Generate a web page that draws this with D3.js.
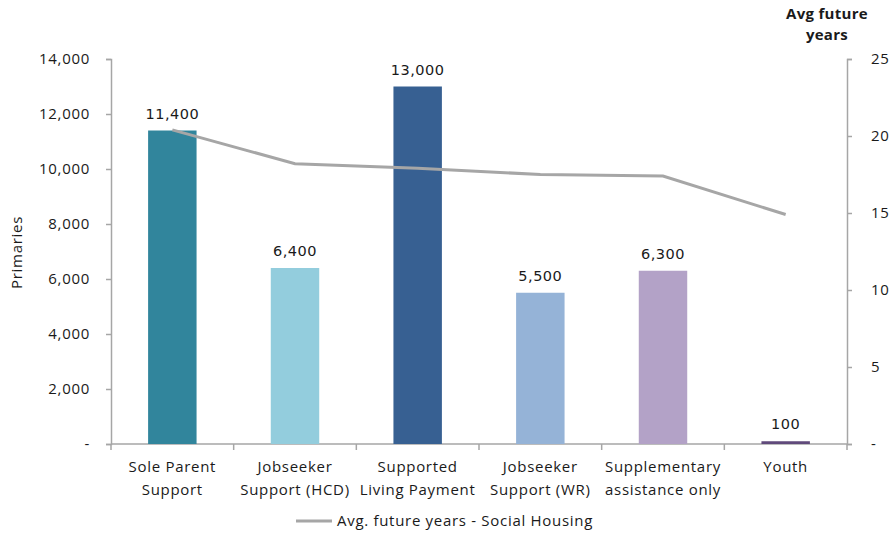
<!DOCTYPE html>
<html>
<head>
<meta charset="utf-8">
<script src="https://cdn.jsdelivr.net/npm/d3@7"></script>
<style>
  html, body { margin: 0; padding: 0; background: #fff; }
  svg { display: block; }
  text { font-family: "Open Sans", Lato, sans-serif; fill: #1a1a1a; }
</style>
</head>
<body>
<svg id="chart" width="893" height="534"></svg>
<script>
// Benefit categories (two-line labels)
const categories = [
  ["Sole Parent", "Support"],
  ["Jobseeker", "Support (HCD)"],
  ["Supported", "Living Payment"],
  ["Jobseeker", "Support (WR)"],
  ["Supplementary", "assistance only"],
  ["Youth"]
];
// Number of primaries per category
const primaries = [11400, 6400, 13000, 5500, 6300, 100];
// Average future years in social housing
const avgYears = [20.4, 18.2, 17.9, 17.5, 17.4, 14.9];
const barColors = ["#31859C", "#93CDDD", "#376092", "#95B3D7", "#B3A2C7", "#604A7B"];
const leftTicks = [0, 2000, 4000, 6000, 8000, 10000, 12000, 14000];
const rightTicks = [0, 5, 10, 15, 20, 25];

const svg = d3.select("#chart");
const m = { left: 111, right: 847, top: 59, bottom: 444 };

const x = d3.scaleBand()
  .domain(d3.range(categories.length))
  .range([m.left, m.right]);
const yL = d3.scaleLinear().domain([0, 14000]).range([m.bottom, m.top]);
const yR = d3.scaleLinear().domain([0, 25]).range([m.bottom, m.top]);

const axisColor = "#a6a6a6";
const fmt = d => d === 0 ? "-" : d3.format(",")(d);
const labelStyle = sel => sel.style("font-size", "15px").style("letter-spacing", "0.7px");

// Left axis
const gL = svg.append("g").attr("transform", `translate(${m.left},0)`)
  .call(d3.axisLeft(yL).tickValues(leftTicks).tickFormat(fmt).tickSize(5).tickPadding(16));
// Right axis
const gR = svg.append("g").attr("transform", `translate(${m.right},0)`)
  .call(d3.axisRight(yR).tickValues(rightTicks).tickFormat(d => d === 0 ? "-" : d).tickSize(5).tickPadding(19));
[gL, gR].forEach(g => {
  g.select(".domain").attr("stroke", axisColor).attr("stroke-width", 1.5);
  g.selectAll(".tick line").attr("stroke", axisColor).attr("stroke-width", 1.5);
  g.selectAll(".tick text").attr("fill", "#1a1a1a").call(labelStyle);
});
gR.selectAll(".tick text").attr("text-anchor", "start");

// Bottom category axis with ticks between categories
const gB = svg.append("g");
gB.append("line")
  .attr("x1", m.left).attr("x2", m.right)
  .attr("y1", m.bottom).attr("y2", m.bottom)
  .attr("stroke", axisColor).attr("stroke-width", 1.5);
gB.selectAll("line.sep")
  .data(d3.range(categories.length + 1))
  .join("line")
  .attr("class", "sep")
  .attr("x1", i => m.left + i * x.bandwidth())
  .attr("x2", i => m.left + i * x.bandwidth())
  .attr("y1", m.bottom).attr("y2", m.bottom + 6)
  .attr("stroke", axisColor).attr("stroke-width", 1.5);

const catLabels = svg.append("g").selectAll("text")
  .data(categories)
  .join("text")
  .attr("x", (d, i) => x(i) + x.bandwidth() / 2)
  .attr("y", 472)
  .attr("text-anchor", "middle")
  .call(labelStyle);
catLabels.selectAll("tspan")
  .data(d => d)
  .join("tspan")
  .attr("x", function () { return this.parentNode.getAttribute("x"); })
  .attr("dy", (d, i) => i === 0 ? 0 : 23)
  .text(d => d);

// Bars
const barW = x.bandwidth() * 0.395;
svg.append("g").selectAll("rect")
  .data(primaries)
  .join("rect")
  .attr("x", (d, i) => x(i) + (x.bandwidth() - barW) / 2)
  .attr("width", barW)
  .attr("y", d => yL(d))
  .attr("height", d => yL(0) - yL(d))
  .attr("fill", (d, i) => barColors[i]);

// Value labels
svg.append("g").selectAll("text")
  .data(primaries)
  .join("text")
  .attr("x", (d, i) => x(i) + x.bandwidth() / 2)
  .attr("y", d => yL(d) - 12)
  .attr("text-anchor", "middle")
  .style("font-family", "'DejaVu Sans', Verdana, sans-serif")
  .style("font-size", "14.5px")
  .style("letter-spacing", "0.5px")
  .text(d => d3.format(",")(d));

// Line series on the right axis
const line = d3.line()
  .x((d, i) => x(i) + x.bandwidth() / 2)
  .y(d => yR(d));
svg.append("path")
  .datum(avgYears)
  .attr("d", line)
  .attr("fill", "none")
  .attr("stroke", "#a6a6a6")
  .attr("stroke-width", 3);

// Axis titles
svg.append("text")
  .attr("transform", `translate(22,${(m.top + m.bottom) / 2 + 1}) rotate(-90)`)
  .attr("text-anchor", "middle")
  .call(labelStyle)
  .text("Primaries");
const rt = svg.append("text")
  .attr("text-anchor", "middle")
  .style("font-size", "15px")
  .style("letter-spacing", "0.3px")
  .style("font-weight", "bold");
rt.append("tspan").attr("x", 827).attr("y", 19).text("Avg future");
rt.append("tspan").attr("x", 827).attr("y", 40).text("years");

// Legend
const lg = svg.append("g");
lg.append("line")
  .attr("x1", 296).attr("x2", 332)
  .attr("y1", 521).attr("y2", 521)
  .attr("stroke", "#a6a6a6").attr("stroke-width", 3);
lg.append("text")
  .attr("x", 337).attr("y", 526)
  .call(labelStyle)
  .text("Avg. future years - Social Housing");
</script>
</body>
</html>
